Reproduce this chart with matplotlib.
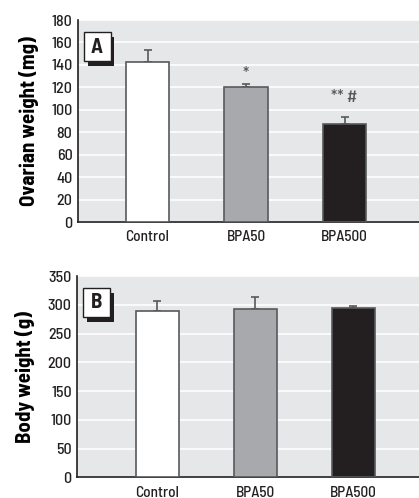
import numpy as np
import matplotlib.pyplot as plt
from matplotlib.patches import Rectangle

groups = ['Control', 'BPA50', 'BPA500']
ovary_mean = [143, 120, 87]
ovary_err = [10, 3, 7]
body_mean = [290, 293, 294]
body_err = [17, 20, 3]
bar_colors = ['#ffffff', '#a7a9ac', '#231f20']

plt.rcParams['font.family'] = ['Barlow Semi Condensed', 'DejaVu Sans']
plt.rcParams['font.weight'] = 500
plt.rcParams['text.color'] = '#231f20'
plt.rcParams['xtick.color'] = '#231f20'
plt.rcParams['ytick.color'] = '#231f20'

fig = plt.figure(figsize=(4.19, 4.98), dpi=100)
W, H = 419, 498
axA = fig.add_axes([78 / W, 1 - 222 / H, 341 / W, 202 / H])
axB = fig.add_axes([77.3 / W, 1 - 477.3 / H, 341.7 / W, 201.3 / H])

x = np.arange(len(groups))


def style(ax, vals, errs, ymax, step, ylabel, letter, xlim):
    ax.set_facecolor('#e6e7e8')
    ax.set_axisbelow(True)
    ax.yaxis.grid(True, color='white', linewidth=1.2)
    ax.bar(x, vals, width=0.44, color=bar_colors, edgecolor='#58595b', linewidth=1.2, zorder=3)
    ax.errorbar(x, vals, yerr=[np.zeros(len(errs)), errs], fmt='none', ecolor='#58595b',
                elinewidth=1.2, capsize=3, capthick=1.2, zorder=2)
    ax.set_ylim(0, ymax)
    ax.set_xlim(*xlim)
    ax.set_yticks(np.arange(0, ymax + 1, step))
    ax.set_xticks(x)
    ax.set_xticklabels(groups, fontsize=11)
    ax.tick_params(axis='y', labelsize=11.5, length=0, pad=4)
    ax.tick_params(axis='x', length=0, pad=6)
    for s in ['top', 'right']:
        ax.spines[s].set_visible(False)
    for s in ['left', 'bottom']:
        ax.spines[s].set_color('#231f20')
        ax.spines[s].set_linewidth(1.2)
    ax.set_ylabel(ylabel, fontsize=15, fontweight='bold', labelpad=9)
    # panel letter box with shadow
    ax.add_patch(Rectangle((0.028, 0.773), 0.079, 0.145, transform=ax.transAxes,
                           facecolor='#231f20', edgecolor='none', zorder=4))
    ax.add_patch(Rectangle((0.017, 0.795), 0.079, 0.145, transform=ax.transAxes,
                           facecolor='white', edgecolor='#231f20', linewidth=1, zorder=5))
    ax.text(0.056, 0.866, letter, transform=ax.transAxes, ha='center', va='center',
            fontsize=15, fontweight='bold', zorder=6)


style(axA, ovary_mean, ovary_err, 180, 20, 'Ovarian weight (mg)', 'A', (-0.705, 2.754))
style(axB, body_mean, body_err, 350, 50, 'Body weight (g)', 'B', (-0.818, 2.67))

axA.text(1, 131, '*', ha='center', va='center', fontsize=12, color='#58595b')
axA.text(2, 111, '** #', ha='center', va='center', fontsize=12, color='#58595b')

fig.savefig('out.png', dpi=100)
